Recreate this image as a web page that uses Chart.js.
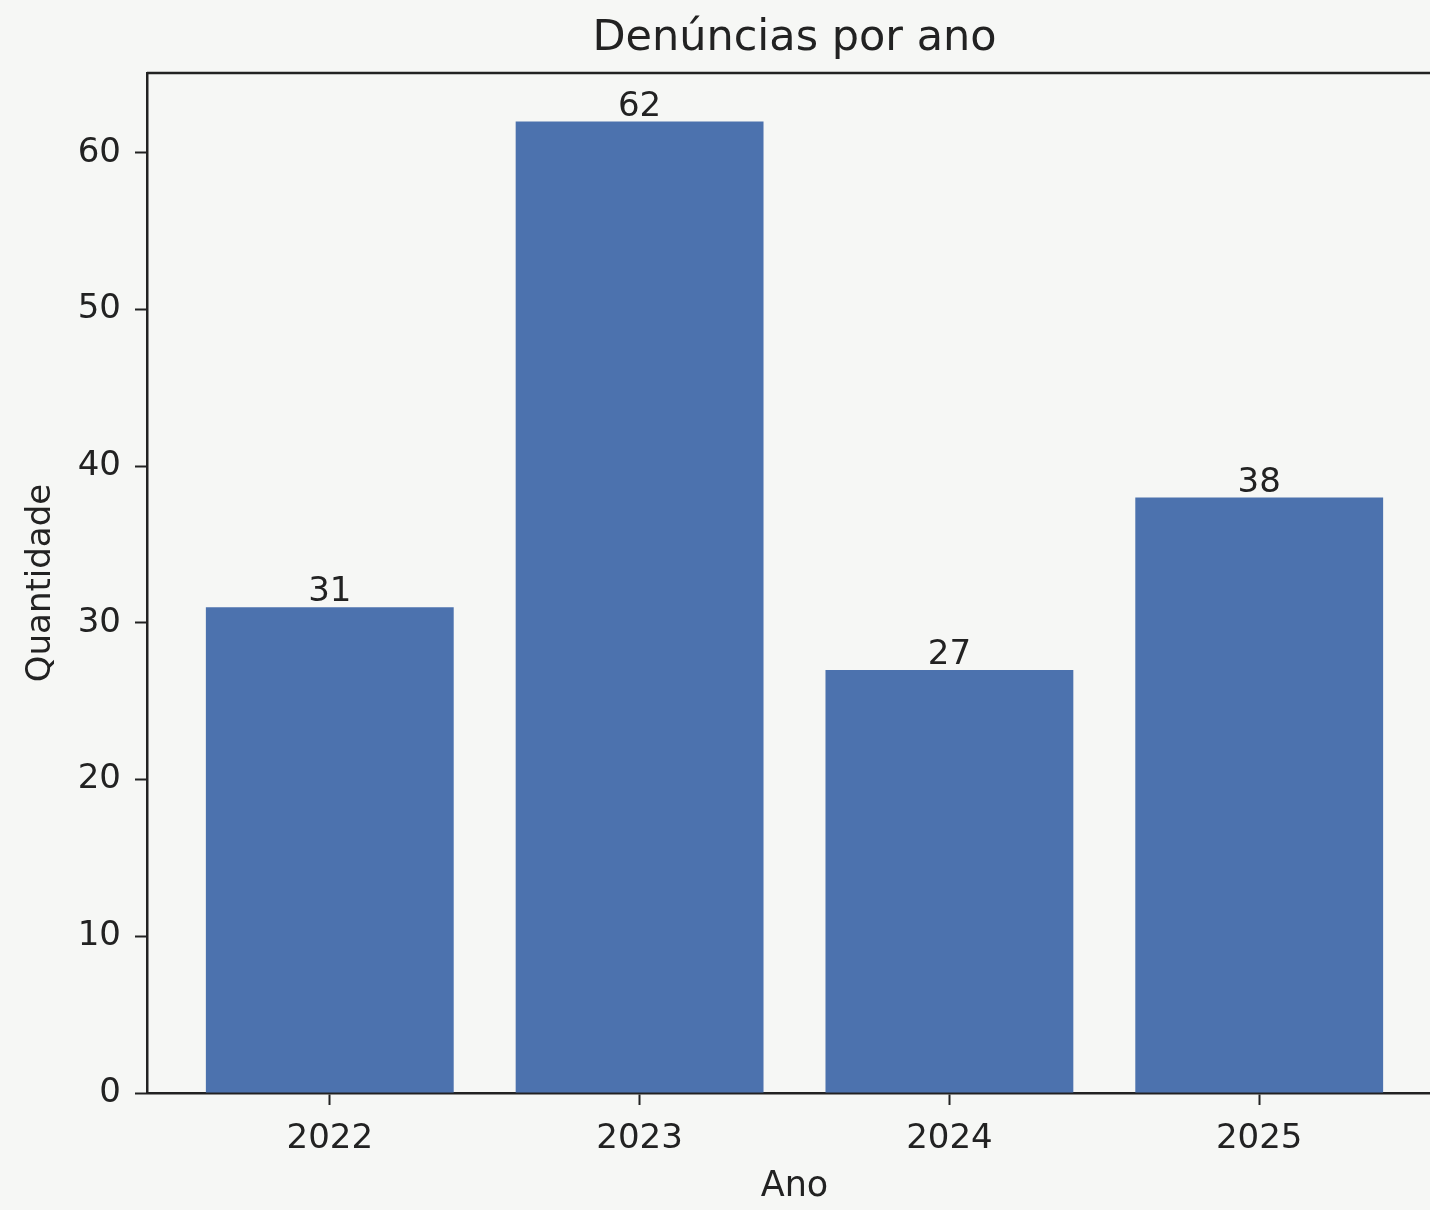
<!DOCTYPE html>
<html>
<head>
<meta charset="utf-8">
<title>Denúncias por ano</title>
<script src="https://cdn.jsdelivr.net/npm/chart.js@4/dist/chart.umd.min.js"></script>
<style>
  html, body { margin: 0; padding: 0; overflow: hidden; background: #f6f7f5; }
  #wrap { width: 1430px; height: 1210px; overflow: hidden; }
  canvas { display: block; }
</style>
</head>
<body>
<div id="wrap"><canvas id="myChart" width="1442" height="1210"></canvas></div>
<script>
'use strict';

// DATA
var titulo = 'Denúncias por ano';
var anos = ['2022', '2023', '2024', '2025'];
var denuncias = [31, 62, 27, 38];
var yTicks = [0, 10, 20, 30, 40, 50, 60];

var corBarra = '#4c72ae';
var corTexto = '#222222';
var fonte = 'DejaVu Sans';

// TITLE (CENTERED OVER AXES) + TOP SPINE + VALUE LABELS ON BARS
var extras = {
  id: 'extras',
  afterDatasetsDraw: function(chart) {
    var ctx = chart.ctx;
    var area = chart.chartArea;
    ctx.save();
    ctx.strokeStyle = corTexto;
    ctx.lineWidth = 2.5;
    ctx.beginPath();
    ctx.moveTo(area.left, area.top);
    ctx.lineTo(area.right, area.top);
    ctx.stroke();

    ctx.fillStyle = corTexto;
    ctx.textAlign = 'center';
    ctx.textBaseline = 'middle';
    ctx.font = '43px "' + fonte + '"';
    ctx.fillText(titulo, (area.left + area.right) / 2, 39);

    var meta = chart.getDatasetMeta(0);
    ctx.font = '34px "' + fonte + '"';
    ctx.textBaseline = 'alphabetic';
    for (var i = 0; i < meta.data.length; i++) {
      var bar = meta.data[i];
      ctx.fillText(String(denuncias[i]), bar.x, bar.y - 6);
    }
    ctx.restore();
  }
};

var pontos = [];
for (var i = 0; i < anos.length; i++) {
  pontos.push({ x: i, y: denuncias[i] });
}

var ctx = document.getElementById('myChart');
var myChart = new Chart(ctx, {
  type: 'bar',
  data: {
    datasets: [{
      data: pontos,
      backgroundColor: corBarra,
      borderWidth: 0,
      barPercentage: 0.8,
      categoryPercentage: 1
    }]
  },
  options: {
    responsive: false,
    animation: false,
    layout: { padding: { top: 73, left: 0, right: 0, bottom: 0 } },
    plugins: {
      legend: { display: false },
      tooltip: { enabled: false },
      title: { display: false }
    },
    scales: {
      x: {
        type: 'linear',
        offset: false,
        min: -0.59,
        max: 3.59,
        afterBuildTicks: function(scale) {
          scale.ticks = anos.map(function(a, i) { return { value: i }; });
        },
        afterFit: function(scale) { scale.height = 117; },
        ticks: {
          color: corTexto,
          font: { family: fonte, size: 34 },
          padding: 14,
          maxRotation: 0,
          callback: function(v) { return anos[v]; }
        },
        grid: { offset: false, drawOnChartArea: false, drawTicks: true, tickLength: 12, tickWidth: 2, tickColor: corTexto },
        border: { display: true, color: corTexto, width: 2.5 },
        title: {
          display: true,
          text: 'Ano',
          color: corTexto,
          font: { family: fonte, size: 35 },
          padding: { top: 0, bottom: 2 }
        }
      },
      y: {
        min: 0,
        max: 65.1,
        afterBuildTicks: function(scale) {
          scale.ticks = yTicks.map(function(v) { return { value: v }; });
        },
        afterFit: function(scale) { scale.width = 147; },
        ticks: {
          color: corTexto,
          font: { family: fonte, size: 34 },
          padding: 14
        },
        grid: { drawOnChartArea: false, drawTicks: true, tickLength: 12, tickWidth: 2, tickColor: corTexto },
        border: { display: true, color: corTexto, width: 2.5 },
        title: {
          display: true,
          text: 'Quantidade',
          color: corTexto,
          font: { family: fonte, size: 34 },
          padding: { top: 21, bottom: 0 }
        }
      }
    }
  },
  plugins: [extras]
});
</script>
</body>
</html>
